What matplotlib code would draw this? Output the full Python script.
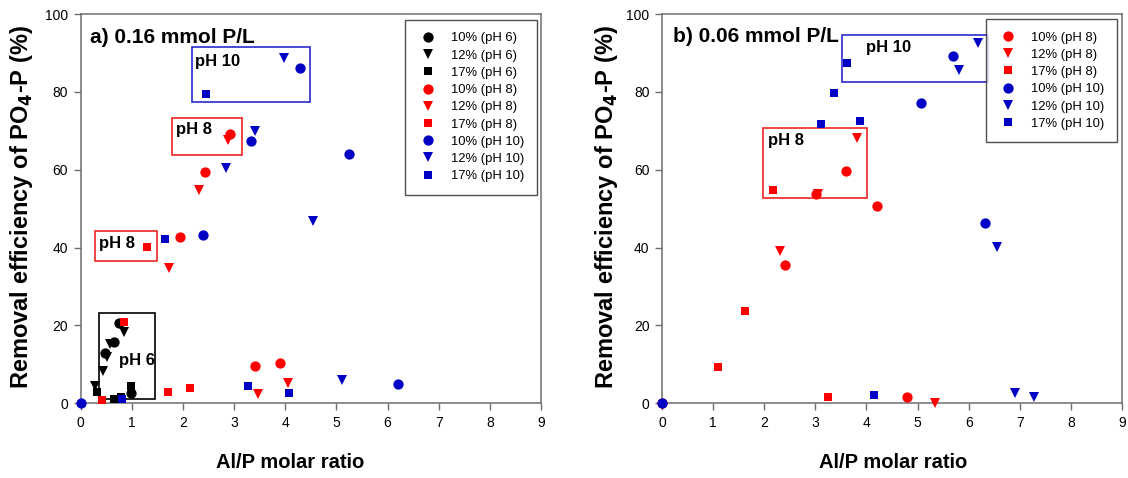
import matplotlib
matplotlib.use('Agg')
import matplotlib.pyplot as plt
from matplotlib.patches import Rectangle

# ---------------- data: panel a) 0.16 mmol P/L ----------------
a_ph6_10_x = [0.48, 0.645, 0.74, 0.99]
a_ph6_10_y = [13.0, 15.7, 20.7, 2.7]
a_ph6_12_x = [0.29, 0.43, 0.51, 0.58, 0.84]
a_ph6_12_y = [4.5, 8.4, 12.0, 15.2, 18.2]
a_ph6_17_x = [0.32, 0.645, 0.79, 0.99]
a_ph6_17_y = [3.0, 1.0, 1.7, 4.5]
a_ph8_10_x = [1.94, 2.43, 2.92, 3.41, 3.89]
a_ph8_10_y = [42.6, 59.3, 69.3, 9.6, 10.4]
a_ph8_12_x = [1.73, 2.32, 2.89, 3.47, 4.05]
a_ph8_12_y = [34.8, 54.8, 67.6, 2.3, 5.3]
a_ph8_17_x = [0.42, 0.85, 1.29, 1.71, 2.14]
a_ph8_17_y = [0.9, 21.0, 40.2, 3.0, 3.9]
a_ph10_10_x = [0.0, 2.39, 3.34, 4.29, 5.25, 6.21]
a_ph10_10_y = [0.0, 43.2, 67.5, 86.2, 64.0, 4.9]
a_ph10_12_x = [2.84, 3.41, 3.98, 4.54, 5.11]
a_ph10_12_y = [60.5, 70.0, 88.6, 46.8, 6.0]
a_ph10_17_x = [0.81, 1.64, 2.45, 3.27, 4.08]
a_ph10_17_y = [1.0, 42.1, 79.5, 4.5, 2.7]

# ---------------- data: panel b) 0.06 mmol P/L ----------------
b_ph8_10_x = [0.0, 2.41, 3.01, 3.60, 4.20, 4.80]
b_ph8_10_y = [0.0, 35.5, 53.8, 59.7, 50.7, 1.7]
b_ph8_12_x = [2.31, 3.06, 3.82, 5.34]
b_ph8_12_y = [39.1, 53.8, 68.1, 0.0]
b_ph8_17_x = [1.09, 1.63, 2.17, 3.24]
b_ph8_17_y = [9.4, 23.7, 54.9, 1.5]
b_ph10_10_x = [0.0, 5.06, 5.69, 6.32]
b_ph10_10_y = [0.0, 77.1, 89.3, 46.3]
b_ph10_12_x = [5.82, 6.19, 6.55, 6.91, 7.28]
b_ph10_12_y = [85.6, 92.5, 40.2, 2.6, 1.7]
b_ph10_17_x = [3.11, 3.37, 3.61, 3.87, 4.14]
b_ph10_17_y = [71.8, 79.7, 87.4, 72.5, 2.1]

x_ticks = [0, 1, 2, 3, 4, 5, 6, 7, 8, 9]
y_ticks = [0, 20, 40, 60, 80, 100]

BLACK = '#000000'
RED = '#FF0000'
BLUE = '#0000C4'
SPINE = '#6e6e6e'
SANS = ['Liberation Sans', 'DejaVu Sans']

plt.rcParams['font.family'] = SANS

fig = plt.figure(figsize=(11.28, 4.78), dpi=100)
axA = fig.add_axes([0.0715, 0.1563, 0.4081, 0.8144])
axB = fig.add_axes([0.5869, 0.1563, 0.4078, 0.8144])

MK = {'o': 7.4, 'v': 7.2, 's': 6.4}


def series(ax, x, y, marker, color, label):
    ax.plot(x, y, linestyle='none', marker=marker, color=color,
            markersize=MK[marker], markeredgewidth=0, label=label,
            clip_on=False, zorder=3)


def style(ax):
    ax.set_xlim(0, 9)
    ax.set_ylim(0, 100)
    ax.set_xticks(x_ticks)
    ax.set_yticks(y_ticks)
    for s in ax.spines.values():
        s.set_color(SPINE)
        s.set_linewidth(1.1)
    ax.tick_params(direction='out', length=5, width=1, color=SPINE, pad=4,
                   labelsize=10)


def box(ax, x0, x1, y0, y1, color):
    ax.add_patch(Rectangle((x0, y0), x1 - x0, y1 - y0, fill=False,
                           edgecolor=color, linewidth=1.2, zorder=2))


def legend(ax, anchor):
    leg = ax.legend(loc='upper right', bbox_to_anchor=anchor, borderaxespad=0,
                    frameon=True, fancybox=False, edgecolor='#222222',
                    prop={'size': 9.4}, borderpad=0.95,
                    handlelength=1.6, handletextpad=0.95, labelspacing=0.39,
                    numpoints=1)
    leg.get_frame().set_linewidth(1.0)
    return leg


# ---- panel a ----
series(axA, a_ph6_10_x, a_ph6_10_y, 'o', BLACK, '10% (pH 6)')
series(axA, a_ph6_12_x, a_ph6_12_y, 'v', BLACK, '12% (pH 6)')
series(axA, a_ph6_17_x, a_ph6_17_y, 's', BLACK, '17% (pH 6)')
series(axA, a_ph8_10_x, a_ph8_10_y, 'o', RED, '10% (pH 8)')
series(axA, a_ph8_12_x, a_ph8_12_y, 'v', RED, '12% (pH 8)')
series(axA, a_ph8_17_x, a_ph8_17_y, 's', RED, '17% (pH 8)')
series(axA, a_ph10_10_x, a_ph10_10_y, 'o', BLUE, '10% (pH 10)')
series(axA, a_ph10_12_x, a_ph10_12_y, 'v', BLUE, '12% (pH 10)')
series(axA, a_ph10_17_x, a_ph10_17_y, 's', BLUE, '17% (pH 10)')
style(axA)
box(axA, 2.17, 4.49, 77.5, 91.4, '#2a2ad0')
box(axA, 1.79, 3.16, 63.8, 73.4, '#ee2222')
box(axA, 0.29, 1.49, 36.6, 44.3, '#ee2222')
box(axA, 0.36, 1.46, 1.1, 23.3, BLACK)
tkw = dict(fontweight='bold', fontsize=12, va='center', ha='left', zorder=4)
axA.text(2.24, 87.8, 'pH 10', **tkw)
axA.text(1.86, 70.4, 'pH 8', **tkw)
axA.text(0.36, 41.1, 'pH 8', **tkw)
axA.text(0.74, 11.1, 'pH 6', **tkw)
axA.text(0.19, 94.0, 'a) 0.16 mmol P/L', fontweight='bold', fontsize=15,
         va='center', ha='left')
legend(axA, (0.991, 0.985))

# ---- panel b ----
series(axB, b_ph8_10_x, b_ph8_10_y, 'o', RED, '10% (pH 8)')
series(axB, b_ph8_12_x, b_ph8_12_y, 'v', RED, '12% (pH 8)')
series(axB, b_ph8_17_x, b_ph8_17_y, 's', RED, '17% (pH 8)')
series(axB, b_ph10_10_x, b_ph10_10_y, 'o', BLUE, '10% (pH 10)')
series(axB, b_ph10_12_x, b_ph10_12_y, 'v', BLUE, '12% (pH 10)')
series(axB, b_ph10_17_x, b_ph10_17_y, 's', BLUE, '17% (pH 10)')
style(axB)
box(axB, 3.52, 6.37, 82.5, 94.6, '#2a2ad0')
box(axB, 1.98, 4.02, 52.7, 70.8, '#ee2222')
axB.text(3.99, 91.3, 'pH 10', **tkw)
axB.text(2.07, 67.4, 'pH 8', **tkw)
axB.text(0.21, 94.2, 'b) 0.06 mmol P/L', fontweight='bold', fontsize=15,
         va='center', ha='left')
legend(axB, (0.989, 0.987))

# ---- axis titles ----
ylab = 'Removal efficiency of PO$_\\mathbf{4}$-P (%)'
fig.text(22 / 1128, 0.567, ylab, rotation=90, ha='center', va='center',
         fontweight='bold', fontsize=17)
fig.text(606 / 1128, 0.567, ylab, rotation=90, ha='center', va='center',
         fontweight='bold', fontsize=17)
fig.text(290 / 1128, 1 - 462 / 478, 'Al/P molar ratio', ha='center',
         va='center', fontweight='bold', fontsize=14.5)
fig.text(893 / 1128, 1 - 462 / 478, 'Al/P molar ratio', ha='center',
         va='center', fontweight='bold', fontsize=14.5)

fig.savefig('out.png', dpi=100)
